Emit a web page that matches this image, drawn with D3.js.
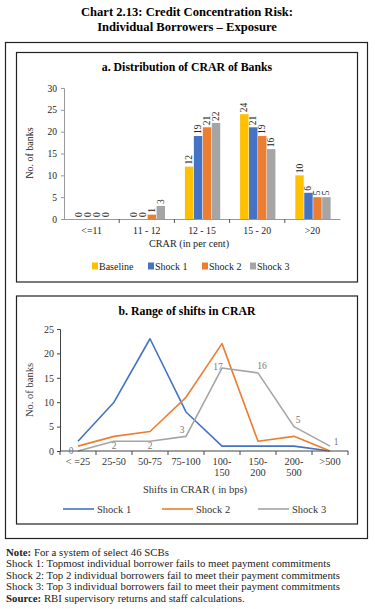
<!DOCTYPE html>
<html>
<head>
<meta charset="utf-8">
<script src="https://cdn.jsdelivr.net/npm/d3@7"></script>
<style>
  body { margin: 0; background: #fff; }
  svg { display: block; font-family: "Liberation Serif", "DejaVu Serif", serif; }
</style>
</head>
<body>
<svg id="chart" width="375" height="609"></svg>
<script>
// chart a: distribution of CRAR
const crarBins = ["<=11", "11 - 12", "12 - 15", "15 - 20", ">20"];
const barSeries = ["Baseline", "Shock 1", "Shock 2", "Shock 3"];
const baseline = [0, 0, 12, 24, 10];
const shock1Bars = [0, 0, 19, 21, 6];
const shock2Bars = [0, 1, 21, 19, 5];
const shock3Bars = [0, 3, 22, 16, 5];
const barColors = ["#FFC000", "#4472C4", "#ED7D31", "#A5A5A5"];

// chart b: range of shifts
const shiftBins = ["< =25", "25-50", "50-75", "75-100", "100-|150", "150-|200", "200-|500", ">500"];
const lineSeries = ["Shock 1", "Shock 2", "Shock 3"];
const shock1Line = [2, 10, 23, 8, 1, 1, 1, 0];
const shock2Line = [1, 3, 4, 11, 22, 2, 3, 0];
const shock3Line = [0, 2, 2, 3, 17, 16, 5, 1];
const lineColors = ["#4472C4", "#ED7D31", "#A5A5A5"];

const notes = [
  ["Note: ", "For a system of select 46 SCBs"],
  ["", "Shock 1: Topmost individual borrower fails to meet payment commitments"],
  ["", "Shock 2: Top 2 individual borrowers fail to meet their payment commitments"],
  ["", "Shock 3: Top 3 individual borrowers fail to meet their payment commitments"],
  ["Source: ", "RBI supervisory returns and staff calculations."]
];

const svg = d3.select("#chart");

// titles
svg.append("text").attr("x", 187).attr("y", 16).attr("text-anchor", "middle")
  .attr("font-weight", "bold").attr("font-size", 12.6).text("Chart 2.13: Credit Concentration Risk:");
svg.append("text").attr("x", 187).attr("y", 30.5).attr("text-anchor", "middle")
  .attr("font-weight", "bold").attr("font-size", 12.6).text("Individual Borrowers \u2013 Exposure");

// boxes
svg.append("rect").attr("x", 5.5).attr("y", 42.5).attr("width", 362).attr("height", 496)
  .attr("fill", "none").attr("stroke", "#222").attr("stroke-width", 1.2);
svg.append("rect").attr("x", 16.5).attr("y", 52.5).attr("width", 341).attr("height", 229.5)
  .attr("fill", "none").attr("stroke", "#222").attr("stroke-width", 1.2);
svg.append("rect").attr("x", 16.5).attr("y", 296).attr("width", 341).attr("height", 228)
  .attr("fill", "none").attr("stroke", "#222").attr("stroke-width", 1.2);

// ---------- chart a ----------
const ga = svg.append("g");
ga.append("text").attr("x", 187).attr("y", 71).attr("text-anchor", "middle")
  .attr("font-weight", "bold").attr("font-size", 11.8).text("a. Distribution of CRAR of Banks");

const barData = [baseline, shock1Bars, shock2Bars, shock3Bars];
const xa = d3.scaleBand().domain(crarBins).range([64, 340]);
const xs = d3.scaleBand().domain(barSeries)
  .range([xa.bandwidth() * 0.19, xa.bandwidth() * 0.83]).paddingInner(0.06);
const ya = d3.scaleLinear().domain([0, 30]).range([219, 88]);

const yAxisA = ga.append("g").attr("transform", "translate(64,0)")
  .call(d3.axisLeft(ya).tickValues([0, 5, 10, 15, 20, 25, 30]).tickSize(3).tickPadding(4));
yAxisA.select(".domain").attr("stroke", "#999");
yAxisA.selectAll(".tick line").attr("stroke", "#999");
yAxisA.selectAll("text").attr("font-family", "Liberation Serif").attr("font-size", 9.5).attr("fill", "#222");

crarBins.forEach((bin, i) => {
  const g = ga.append("g").attr("transform", `translate(${xa(bin)},0)`);
  barSeries.forEach((s, j) => {
    const v = barData[j][i];
    g.append("rect").attr("x", xs(s)).attr("width", xs.bandwidth())
      .attr("y", ya(v)).attr("height", ya(0) - ya(v)).attr("fill", barColors[j]);
    const cx = xs(s) + xs.bandwidth() / 2;
    g.append("text")
      .attr("transform", `translate(${cx + 3},${ya(v) - 2}) rotate(-90)`)
      .attr("font-size", 9.5).attr("fill", "#222").text(v);
  });
});

const xAxisA = ga.append("g").attr("transform", "translate(0,219)")
  .call(d3.axisBottom(xa).tickSize(0).tickPadding(8));
xAxisA.select(".domain").attr("stroke", "#999");
xAxisA.selectAll("text").attr("font-family", "Liberation Serif").attr("font-size", 9.8).attr("fill", "#222");
crarBins.slice(1).forEach(b => {
  ga.append("line").attr("x1", xa(b)).attr("x2", xa(b)).attr("y1", 219).attr("y2", 223).attr("stroke", "#555");
});
ga.append("text").attr("x", 189).attr("y", 247).attr("text-anchor", "middle")
  .attr("font-size", 10.2).attr("fill", "#222").text("CRAR (in per cent)");
ga.append("text").attr("transform", "translate(33,153) rotate(-90)").attr("text-anchor", "middle")
  .attr("font-size", 10).attr("fill", "#222").text("No. of banks");

const legA = ga.append("g").attr("transform", "translate(0,266)");
const legAx = [92, 148, 202, 250];
barSeries.forEach((s, j) => {
  legA.append("rect").attr("x", legAx[j]).attr("y", -3.5).attr("width", 6).attr("height", 7).attr("fill", barColors[j]);
  legA.append("text").attr("x", legAx[j] + 7).attr("y", 3.5).attr("font-size", 10).attr("fill", "#222").text(s);
});

// ---------- chart b ----------
const gb = svg.append("g");
gb.append("text").attr("x", 187).attr("y", 315).attr("text-anchor", "middle")
  .attr("font-weight", "bold").attr("font-size", 11.8).text("b. Range of shifts in CRAR");

const lineData = [shock1Line, shock2Line, shock3Line];
const xb = d3.scalePoint().domain(shiftBins).range([60, 348]).padding(0.5);
const xbEdge = d3.scaleLinear().domain([0, shiftBins.length]).range([60, 348]);
const yb = d3.scaleLinear().domain([0, 25]).range([451, 329]);

const yAxisB = gb.append("g").attr("transform", "translate(60,0)")
  .call(d3.axisLeft(yb).tickValues([0, 5, 10, 15, 20, 25]).tickSize(3).tickPadding(3));
yAxisB.select(".domain").attr("stroke", "#444");
yAxisB.selectAll(".tick line").attr("stroke", "#444");
yAxisB.selectAll("text").attr("font-family", "Liberation Serif").attr("font-size", 10).attr("fill", "#333");

const line = d3.line().x((d, i) => xb(shiftBins[i])).y(d => yb(d));
lineData.forEach((arr, j) => {
  gb.append("path").datum(arr).attr("d", line).attr("fill", "none")
    .attr("stroke", lineColors[j]).attr("stroke-width", 1.6).attr("stroke-linejoin", "round");
});

// x axis
gb.append("line").attr("x1", 60).attr("x2", 348).attr("y1", 451).attr("y2", 451).attr("stroke", "#444");
d3.range(shiftBins.length + 1).forEach(i => {
  gb.append("line").attr("x1", xbEdge(i)).attr("x2", xbEdge(i)).attr("y1", 451).attr("y2", 455).attr("stroke", "#444");
});
shiftBins.forEach(b => {
  const parts = b.split("|");
  const t = gb.append("text").attr("x", xb(b)).attr("y", 465).attr("text-anchor", "middle")
    .attr("font-size", 10.3).attr("fill", "#333");
  parts.forEach((p, k) => t.append("tspan").attr("x", xb(b)).attr("dy", k ? 11 : 0).text(p));
});

// Shock 3 value labels
const lblOff = [[-7, 3, "middle"], [0, 8, "middle"], [0, 8, "middle"], [-4, -3, "middle"],
  [-4, 2, "middle"], [4, -4, "middle"], [4, -4, "middle"], [6, -1, "middle"]];
shock3Line.forEach((v, i) => {
  gb.append("text").attr("x", xb(shiftBins[i]) + lblOff[i][0]).attr("y", yb(v) + lblOff[i][1])
    .attr("text-anchor", lblOff[i][2]).attr("font-size", 9.5).attr("fill", "#777").text(v);
});

gb.append("text").attr("x", 195).attr("y", 493).attr("text-anchor", "middle")
  .attr("font-size", 10.5).attr("fill", "#333").text("Shifts in CRAR ( in bps)");
gb.append("text").attr("transform", "translate(33,390) rotate(-90)").attr("text-anchor", "middle")
  .attr("font-size", 10.5).attr("fill", "#333").text("No. of banks");

const legB = gb.append("g").attr("transform", "translate(0,509)");
const legBx = [63, 162, 258];
lineSeries.forEach((s, j) => {
  legB.append("line").attr("x1", legBx[j]).attr("x2", legBx[j] + 31).attr("y1", 0).attr("y2", 0)
    .attr("stroke", lineColors[j]).attr("stroke-width", 1.6);
  legB.append("text").attr("x", legBx[j] + 34).attr("y", 3.5).attr("font-size", 10.5).attr("fill", "#333").text(s);
});

// notes
notes.forEach((n, i) => {
  const t = svg.append("text").attr("x", 6).attr("y", 556 + i * 11.4).attr("font-size", 10.8).attr("fill", "#222");
  if (n[0]) t.append("tspan").attr("font-weight", "bold").text(n[0]);
  t.append("tspan").text(n[1]);
});
</script>
</body>
</html>
